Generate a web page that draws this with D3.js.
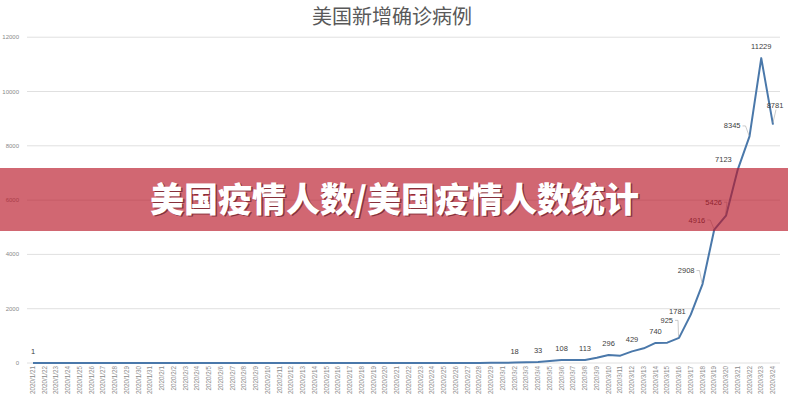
<!DOCTYPE html>
<html><head><meta charset="utf-8">
<script src="https://cdn.jsdelivr.net/npm/d3@7"></script>
<style>
html,body{margin:0;padding:0;background:#fff;}
svg{display:block;}
</style></head>
<body>
<svg id="c" width="788" height="400"></svg>
<script>
const title = "美国新增确诊病例";
const bannerText = "美国疫情人数/美国疫情人数统计";
const dates = (function(){
  const a=[];
  for(let d=21; d<=31; d++) a.push("2020/1/"+d);
  for(let d=1; d<=29; d++) a.push("2020/2/"+d);
  for(let d=1; d<=24; d++) a.push("2020/3/"+d);
  return a;
})();
const values = [
  1,0,0,1,0,3,0,0,0,0,1,
  1,1,3,0,0,0,0,0,0,0,1,0,1,0,0,0,0,0,0,0,2,0,0,2,0,0,1,0,8,
  6,18,25,33,70,108,110,113,190,296,271,429,540,740,750,925,1781,2908,4916,5426,7123,8345,11229,8781
];
const yTicks = [0,2000,4000,6000,8000,10000,12000];
const labeledDates = ["2020/1/21","2020/3/2","2020/3/4","2020/3/6","2020/3/8","2020/3/10","2020/3/12","2020/3/14","2020/3/16","2020/3/17","2020/3/18","2020/3/19","2020/3/20","2020/3/21","2020/3/22","2020/3/23","2020/3/24"];

// label placement (style): offsets from point, anchor, leader
const labelStyle = {
  "2020/3/16": {dx:-6, dy:-15, anchor:"end", leader:true},
  "2020/3/17": {dx:-5, dy:-1, anchor:"end"},
  "2020/3/18": {dx:-8, dy:-11, anchor:"end", leader:true},
  "2020/3/19": {dx:-9, dy:-7, anchor:"end", leader:true},
  "2020/3/20": {dx:-4, dy:-11, anchor:"end", leader:true},
  "2020/3/21": {dx:-6, dy:-8, anchor:"end"},
  "2020/3/22": {dx:-9, dy:-8, anchor:"end", leader:true},
  "2020/3/23": {dx:0, dy:-9, anchor:"middle"},
  "2020/3/24": {dx:2, dy:-17, anchor:"middle", leader:true}
};

const svg = d3.select("#c");
const x = d3.scalePoint().domain(dates).range([33, 773]);
const y = d3.scaleLinear().domain([0,12000]).range([363, 37.2]);

// gridlines
svg.append("g").selectAll("line").data(yTicks).join("line")
  .attr("x1",27).attr("x2",780)
  .attr("y1",d=>y(d)).attr("y2",d=>y(d))
  .attr("stroke","#e0e0e0").attr("stroke-width",1);

// y labels
svg.append("g").selectAll("text").data(yTicks).join("text")
  .attr("x",19).attr("y",d=>y(d)+2)
  .attr("text-anchor","end")
  .attr("font-family","Liberation Sans, Arial, sans-serif")
  .attr("font-size",6).attr("fill","#8a8a8a")
  .text(d=>d);

// x labels
svg.append("g").selectAll("text").data(dates).join("text")
  .attr("transform",d=>`translate(${x(d)+2},366) rotate(-90)`)
  .attr("text-anchor","end")
  .attr("font-family","Liberation Sans, Arial, sans-serif")
  .attr("font-size",6.3).attr("fill","#8a8a8a")
  .text(d=>d);

// line
const line = d3.line().x((d,i)=>x(dates[i])).y(d=>y(d));
svg.append("path").datum(values)
  .attr("d",line).attr("fill","none")
  .attr("stroke","#4a78aa").attr("stroke-width",2)
  .attr("stroke-linejoin","round");

// data labels
const lg = svg.append("g");
labeledDates.forEach(dt=>{
  const i = dates.indexOf(dt);
  const v = values[i];
  const px = x(dt), py = y(v);
  const s = labelStyle[dt] || {dx:0, dy:-9, anchor:"middle"};
  const tx = px + s.dx, ty = py + s.dy;
  lg.append("text").attr("x",tx).attr("y",ty)
    .attr("text-anchor",s.anchor)
    .attr("font-family","Liberation Sans, Arial, sans-serif")
    .attr("font-size",7.5).attr("fill","#404040")
    .text(v);
  if(s.leader){
    const lx = s.anchor==="end" ? tx+2 : tx+1;
    lg.append("path")
      .attr("d", s.anchor==="end"
        ? `M${lx},${ty-2.5}L${lx+3},${ty-2.5}L${px-0.5},${py-1}`
        : `M${lx},${ty+2}L${px},${py-2}`)
      .attr("fill","none").attr("stroke","#a6a6a6").attr("stroke-width",0.6);
  }
});

// title
svg.append("text").attr("x",392).attr("y",23.5)
  .attr("text-anchor","middle")
  .attr("font-family","Noto Sans CJK SC, sans-serif")
  .attr("font-size",20).attr("fill","#595959")
  .text(title);

// banner overlay
svg.append("rect").attr("x",0).attr("y",168).attr("width",788).attr("height",63)
  .attr("fill","rgb(185,22,38)").attr("fill-opacity",0.65);
svg.append("text").attr("x",396).attr("y",213)
  .attr("text-anchor","middle")
  .attr("font-family","Noto Sans CJK SC, sans-serif")
  .attr("font-weight",900).attr("font-size",34)
  .attr("fill","rgba(70,0,10,0.55)")
  .text(bannerText);
svg.append("text").attr("x",394.5).attr("y",211.5)
  .attr("text-anchor","middle")
  .attr("font-family","Noto Sans CJK SC, sans-serif")
  .attr("font-weight",900).attr("font-size",34)
  .attr("fill","#ffffff")
  .text(bannerText);
</script>
</body></html>
